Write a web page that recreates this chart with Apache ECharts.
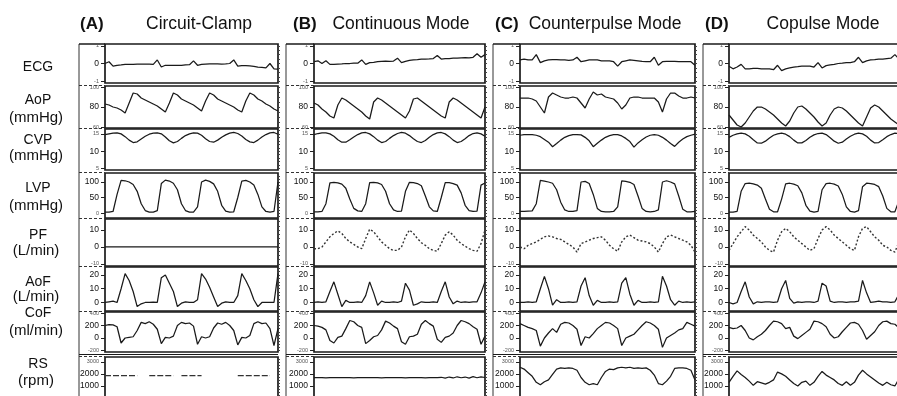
<!DOCTYPE html>
<html>
<head>
<meta charset="utf-8">
<script src="https://cdn.jsdelivr.net/npm/echarts@6/dist/echarts.min.js"></script>
<style>
  html, body { margin: 0; padding: 0; background: #fff; }
  #chart { width: 897px; height: 396px; }
</style>
</head>
<body>
<div id="chart"></div>
<script>
// rows and columns
const rowNames = ['ECG', 'AoP', 'CVP', 'LVP', 'PF', 'AoF', 'CoF', 'RS'];
const rowUnits = ['', '(mmHg)', '(mmHg)', '(mmHg)', '(L/min)', '(L/min)', '(ml/min)', '(rpm)'];
const modeLetters = ['(A)', '(B)', '(C)', '(D)'];
const modeTitles = ['Circuit-Clamp', 'Continuous Mode', 'Counterpulse Mode', 'Copulse Mode'];

// y axis ranges and tick labels per row
const axisMin = [-1.1, 59, 4.6, -16, -11.2, -6.2, -224, 0];
const axisMax = [1.1, 101, 16.4, 129, 16.5, 25.8, 416, 3400];
const majorTicks = [[0], [80], [10], [50, 100], [0, 10], [0, 10, 20], [0, 200], [1000, 2000]];
const edgeTicks = [[-1, 1], [60, 100], [5, 15], [0], [-10], [], [-200, 400], [3000]];
const minorStart = [-1, 60, 5, -10, -10, -5, -200, 250];
const minorStep = [0.25, 5, 1, 10, 2.5, 2.5, 50, 250];

// ECG
const ecgA = [0, 0.1, -0.15, -0.1, -0.08, -0.05, -0.05, -0.05, -0.04, -0.03, -0.03, -0.04, -0.05, 0.2, -0.2, -0.1, -0.1, -0.1, -0.1, -0.1, -0.08, -0.07, 0.15, -0.1, -0.05, -0.03, -0.02, -0.02, -0.02, -0.03, -0.02, 0.0, 0.2, -0.15, -0.12, -0.12, -0.14, -0.16, -0.2, -0.22, -0.25, 0.0, -0.3, -0.32];
const ecgB = [0.1, 0.15, 0.0, 0.15, -0.05, -0.05, -0.03, -0.02, 0, 0, 0.02, 0.02, 0.2, -0.05, 0.05, 0.07, 0.1, 0.12, 0.13, 0.12, 0.14, 0.3, 0.05, 0.12, 0.18, 0.2, 0.22, 0.25, 0.25, 0.26, 0.28, 0.45, 0.25, 0.27, 0.28, 0.3, 0.3, 0.32, 0.33, 0.32, 0.35, 0.55, 0.35, 0.5];
const ecgC = [0.2, 0.25, 0.2, 0.2, 0.5, 0.05, 0.15, 0.2, 0.22, 0.22, 0.2, 0.2, 0.18, 0.2, 0.35, 0.1, 0.15, 0.2, 0.2, 0.2, 0.15, 0.15, 0.15, 0.1, -0.15, 0.1, 0.15, 0.2, 0.18, 0.15, 0.12, 0.1, 0.1, 0.35, -0.1, 0.1, 0.12, 0.12, 0.12, 0.1, 0.1, 0.1, 0.1, -0.1];
const ecgD = [-0.15, -0.3, -0.2, -0.05, -0.3, -0.3, -0.28, -0.28, -0.3, -0.3, -0.3, -0.35, -0.1, -0.4, -0.3, -0.25, -0.2, -0.18, -0.15, -0.15, -0.15, -0.2, 0.05, -0.25, -0.12, -0.08, -0.05, 0.0, 0.02, 0.05, 0.05, 0.1, 0.35, 0.05, 0.15, 0.2, 0.22, 0.25, 0.25, 0.28, 0.3, 0.5, 0.25, 0.3];

// AoP (mmHg)
const aopA = [83, 82, 80, 79, 77, 74, 84, 94, 93, 89, 87, 85, 83, 81, 78, 75, 84, 94, 92, 88, 86, 84, 82, 79, 76, 86, 94, 92, 88, 86, 84, 82, 80, 77, 75, 86, 94, 92, 88, 86, 83, 81, 78, 76];
const aopB = [84, 82, 78, 75, 71, 69, 82, 89, 87, 84, 81, 78, 75, 71, 68, 85, 89, 87, 84, 81, 78, 75, 72, 69, 76, 88, 89, 86, 83, 80, 77, 74, 71, 69, 85, 89, 87, 84, 81, 78, 75, 72, 69, 80];
const aopC = [89, 89, 89, 88, 86, 80, 74, 90, 94, 92, 90, 89, 89, 90, 89, 84, 79, 88, 95, 92, 93, 90, 89, 88, 84, 78, 82, 89, 90, 90, 89, 89, 89, 89, 85, 75, 88, 94, 94, 91, 89, 89, 90, 89];
const aopD = [72, 67, 62, 60, 64, 70, 76, 80, 80, 78, 75, 72, 68, 64, 61, 66, 74, 80, 81, 78, 74, 70, 65, 61, 64, 72, 78, 80, 79, 76, 72, 68, 64, 61, 70, 79, 82, 80, 76, 72, 68, 65, 62, 61];

// CVP (mmHg)
const cvpA = [14.8, 15.0, 15.2, 15.3, 15.0, 14.2, 13.2, 12.5, 12.7, 13.5, 14.3, 14.9, 15.2, 15.3, 15.0, 14.1, 13.0, 12.4, 12.8, 13.7, 14.5, 15.0, 15.3, 15.2, 14.6, 13.6, 12.8, 12.6, 13.2, 14.0, 14.7, 15.2, 15.4, 15.1, 14.4, 13.4, 12.7, 12.5, 13.2, 14.1, 14.8, 15.3, 15.4, 14.9];
const cvpB = [14.8, 15.1, 15.3, 15.3, 15.0, 14.3, 13.3, 12.6, 12.6, 13.3, 14.1, 14.8, 15.3, 15.4, 15.0, 14.2, 13.2, 12.5, 12.8, 13.7, 14.5, 15.1, 15.4, 15.2, 14.5, 13.6, 12.8, 12.5, 13.1, 14.0, 14.8, 15.3, 15.4, 15.0, 14.2, 13.2, 12.5, 12.8, 13.6, 14.5, 15.1, 15.3, 15.0, 14.3];
const cvpC = [14.6, 14.8, 14.8, 14.8, 14.6, 14.2, 13.4, 12.6, 11.3, 12.2, 13.2, 14.0, 14.5, 14.8, 14.8, 14.7, 14.0, 13.0, 11.3, 12.3, 13.2, 14.0, 14.5, 14.8, 14.8, 14.4, 13.7, 12.8, 11.2, 12.4, 13.3, 14.1, 14.6, 14.8, 14.6, 14.0, 13.2, 12.2, 11.4, 12.6, 13.5, 14.2, 14.6, 14.9];
const cvpD = [14.0, 14.6, 15.0, 15.2, 15.0, 14.3, 13.3, 12.4, 12.3, 12.9, 13.8, 14.6, 15.0, 15.2, 14.9, 14.2, 13.2, 12.4, 12.4, 13.1, 14.0, 14.7, 15.1, 15.2, 14.8, 13.9, 12.9, 12.3, 12.6, 13.5, 14.3, 14.9, 15.2, 15.0, 14.3, 13.2, 12.4, 12.5, 13.3, 14.2, 14.8, 15.2, 15.1, 14.6];

// LVP (mmHg)
const lvpA = [3, 3, 5, 60, 105, 104, 100, 92, 70, 30, 8, 3, 3, 8, 95, 106, 103, 96, 75, 30, 8, 3, 3, 20, 100, 106, 102, 94, 70, 25, 6, 3, 4, 50, 103, 105, 100, 90, 60, 20, 5, 3, 5, 100];
const lvpB = [4, 4, 5, 30, 97, 99, 97, 93, 80, 45, 15, 7, 5, 30, 98, 99, 97, 92, 70, 30, 10, 5, 6, 70, 99, 98, 95, 88, 55, 20, 7, 5, 50, 98, 98, 95, 90, 65, 25, 8, 5, 6, 90, 97];
const lvpC = [5, 5, 6, 7, 30, 105, 103, 100, 96, 75, 35, 10, 5, 5, 8, 100, 102, 95, 60, 15, 5, 4, 4, 5, 20, 104, 102, 99, 92, 55, 15, 5, 4, 5, 10, 100, 104, 100, 94, 55, 12, 4, 4, 5];
const lvpD = [3, 3, 5, 70, 95, 96, 94, 90, 80, 45, 12, 4, 4, 45, 94, 96, 93, 88, 65, 25, 6, 3, 5, 75, 95, 96, 93, 87, 60, 20, 5, 3, 8, 85, 96, 95, 92, 85, 55, 15, 4, 4, 40, 92];

// PF (L/min)
const pfA = [0, 0, 0, 0, 0, 0, 0, 0, 0, 0, 0];
const pfB = [-1, -1, 0, 3, 6, 8, 9.5, 8, 5, 3, 1.5, 0, -1, 5, 10.5, 9, 6, 3, 1, -1, -2, -2, 0, 6, 10, 8, 5, 2.5, 1, -1, -2, -2.5, 2, 7, 9, 7, 4, 2, 0.5, -1, -2, -2.5, 2, 10];
const pfC = [0, -1, 1, 2, 3, 4.5, 6, 6.5, 6, 5, 4.5, 3, 1.5, 0, -3, 2, 3, 4, 5, 5.5, 6, 4, 1, -1, -2.5, 3, 6, 7, 5.5, 4, 3.5, 3, 2, 0, -3, 2, 6, 7, 6, 5, 4, 3, 1, -3];
const pfD = [-2, 2, 6, 9, 12, 10, 7, 5, 3, 0, -2, -3, 4, 9, 11, 9, 6, 4, 2, 0, -2, -1, 5, 10, 12, 10, 7, 5, 3, 1, -1, -2, 6, 11, 12, 9, 6, 4, 1, 0, -2, -3, 3, 8];

// AoF (L/min)
const aofA = [0, 0.5, 1, 0, 10, 21, 16, 8, -3, -1, 0, 0, 0.3, 0, 18, 20, 14, 8, -3, -0.5, 0.5, 0, 0, 2, 21, 17, 11, 4, -3, -0.5, 0.5, 0, 0, 5, 21, 16, 10, 2, -3, 0, 0, 0, 0, 21];
const aofB = [0, 0.5, 0, 0.5, 8, 15, 6, -3, 1.5, 0, 0, 0.5, 0, 5, 15, 7, -2, 1, 0, 0, 0.5, 0, 1, 14, 9, -2, -1, 0.5, 0, 0, 0.5, 0, 8, 15, 4, -1, 1, 0, 0.5, 0, 0.5, 0.5, 7, 15];
const aofC = [0, 0, 0.5, 0, 0.5, 10, 19, 10, -2, 2, 0, 0, 0.5, 0, 0.5, 12, 18, 5, -2, 1.5, 0, 0, 0.5, 0, 0.5, 14, 18, 6, -2, 1.5, 0, 0, 0.5, 0, 0.5, 19, 12, 2, -2, 1, 0, 0.5, 0, 0.5];
const aofD = [0, -1, 0, 8, 15, 4, -1, 0.5, 0, 0.5, 0.5, 0, 0.5, 10, 16, 3, -0.5, 0.5, 0, 0.5, 0.5, 0, 1, 14, 12, 1, 0, 0.5, 0.5, 0, 0.5, 0.5, 1, 16, 7, 0, 0.5, 1, 0.5, 0.5, 0, 0.5, 6, 15];

// CoF (ml/min)
const cofA = [200, 215, 210, 180, -80, 0, 10, 20, 120, 250, 230, 260, 220, 140, -90, 10, 0, 30, 200, 250, 230, 240, 190, -100, 20, 0, 20, 160, 240, 220, 250, 200, 120, -110, 10, 0, 40, 230, 260, 230, 240, 150, -120, 150];
const cofB = [200, 190, 170, 130, -40, -80, 10, 30, 150, 280, 260, 200, 170, -90, -40, 20, 40, 130, 270, 240, 190, 150, -60, -100, 20, 30, 60, 220, 280, 230, 190, -20, -70, 10, 30, 80, 200, 280, 260, 230, 180, 140, -100, 30];
const cofC = [230, 200, 170, 150, 120, -130, 0, 80, 150, 90, 220, 250, 240, 200, 140, -120, 20, 0, 70, 150, 200, 250, 240, 200, 150, -120, 0, 30, 60, 130, 200, 260, 240, 200, 140, -150, 0, 40, 80, 130, 150, 250, 220, 190];
const cofD = [170, 150, 160, 200, 120, 0, -30, 20, 60, 120, 200, 270, 260, 230, 150, 170, 30, -10, 40, 90, 140, 270, 260, 230, 180, 60, 0, 20, 100, 170, 240, 250, 220, 120, -20, 40, 100, 200, 260, 270, 230, 220, 160, 250];

// RS (rpm)
const rsA = [1850, 1850, 1850, 1850, 1850, 1850, 1850, 1850, 1850, null, null, 1850, 1850, 1850, 1850, 1850, 1850, 1850, null, 1850, 1850, 1850, 1850, 1850, 1850, null, null, null, null, null, null, null, null, 1850, 1850, 1850, 1850, 1850, 1850, 1850, 1850, 1850, null, 1850];
const rsB = [1680, 1690, 1680, 1670, 1680, 1690, 1680, 1690, 1680, 1680, 1670, 1680, 1690, 1680, 1680, 1690, 1680, 1670, 1680, 1690, 1680, 1680, 1690, 1670, 1680, 1680, 1690, 1680, 1670, 1680, 1690, 1680, 1720, 1650, 1740, 1660, 1760, 1680, 1740, 1650, 1770, 1680, 1750, 1700];
const rsC = [2550, 2400, 2100, 1800, 1300, 1100, 1350, 1500, 1950, 2400, 2500, 2450, 2500, 2450, 2300, 1700, 1300, 1100, 1200, 1100, 1700, 2200, 2400, 2350, 2500, 2550, 2500, 2550, 2450, 2500, 2450, 2500, 2300, 1900, 1200, 1100, 1400, 1800, 2450, 2500, 2500, 2450, 2300, 1500];
const rsD = [1300, 1800, 2250, 1950, 1700, 1400, 1050, 1350, 1250, 1150, 1300, 1500, 2150, 2000, 1800, 1500, 1200, 1000, 1300, 1400, 1050, 1300, 1800, 2200, 1900, 1700, 1500, 1200, 1050, 1350, 1050, 1300, 1900, 2300, 2000, 1750, 1500, 1250, 1050, 1300, 1100, 1000, 1600, 2000];

const panels = [
  [ecgA, ecgB, ecgC, ecgD],
  [aopA, aopB, aopC, aopD],
  [cvpA, cvpB, cvpC, cvpD],
  [lvpA, lvpB, lvpC, lvpD],
  [pfA, pfB, pfC, pfD],
  [aofA, aofB, aofC, aofD],
  [cofA, cofB, cofC, cofD],
  [rsA, rsB, rsC, rsD]
];

// layout
const cols = [
  { outer: 79, left: 105, right: 278 },
  { outer: 286, left: 314, right: 485 },
  { outer: 493, left: 520, right: 695 },
  { outer: 703, left: 729, right: 903 }
];
const rows = [
  { top: 44, h: 39 }, { top: 86, h: 42 }, { top: 129, h: 41 }, { top: 173, h: 45 },
  { top: 219, h: 47 }, { top: 267, h: 44 }, { top: 312, h: 40 }, { top: 357, h: 41 }
];
const labelY = [[67], [100, 118], [140, 156], [188, 206], [235, 251], [282, 297], [313, 331], [364, 381]];
const titleX = [199, 401, 605, 823];
const letterX = [80, 293, 495, 705];

const ink = '#1a1a1a';
const font = '"Liberation Sans", Arial, sans-serif';

function lineFor(ri, ci) {
  if (ri === 4 && ci > 0) return { color: '#333', width: 1.4, type: [2, 2] };
  if (ri === 7 && ci === 0) return { color: '#333', width: 1.2, type: [6, 2] };
  return { color: ink, width: 1.25 };
}

const grid = [], xAxis = [], yAxis = [], series = [];
rows.forEach((r, ri) => {
  const minor = [];
  for (let v = minorStart[ri]; v < axisMax[ri]; v += minorStep[ri]) minor.push(+v.toFixed(3));
  const labelVals = majorTicks[ri].concat(edgeTicks[ri]);
  cols.forEach((c, ci) => {
    const gi = grid.length;
    grid.push({
      left: c.left, top: r.top, width: c.right - c.left, height: r.h,
      show: true, borderColor: ink, borderWidth: 1.7, backgroundColor: 'transparent',
      containLabel: false, outerBoundsMode: 'none'
    });
    xAxis.push({ type: 'category', gridIndex: gi, show: false, boundaryGap: false });
    yAxis.push({
      type: 'value', gridIndex: gi, min: axisMin[ri], max: axisMax[ri],
      axisLine: { show: false }, splitLine: { show: false },
      axisTick: { show: true, customValues: labelVals, length: 4, lineStyle: { color: '#222', width: 1 } },
      axisLabel: {
        show: true, customValues: labelVals, margin: 6, fontSize: 8.5, color: '#111', fontFamily: font,
        formatter: v => edgeTicks[ri].indexOf(v) >= 0 ? '{s|' + v + '}' : String(v),
        rich: { s: { fontSize: 5.5, color: '#555', fontFamily: font } }
      }
    });
    yAxis.push({
      type: 'value', gridIndex: gi, min: axisMin[ri], max: axisMax[ri],
      axisLine: { show: false }, splitLine: { show: false }, axisLabel: { show: false },
      axisTick: { show: true, customValues: minor, length: 2, lineStyle: { color: '#444', width: 1 } }
    });
    series.push({
      type: 'line', xAxisIndex: gi, yAxisIndex: 2 * gi, data: panels[ri][ci],
      showSymbol: false, silent: true, connectNulls: false, lineStyle: lineFor(ri, ci)
    });
  });
});

// frames, labels and titles
const graphic = [];
cols.forEach((c, ci) => {
  graphic.push({ type: 'line', shape: { x1: c.outer, y1: 44, x2: c.outer, y2: 396 }, style: { stroke: '#333', lineWidth: 1 } });
  graphic.push({ type: 'line', shape: { x1: c.outer, y1: 44, x2: c.left, y2: 44 }, style: { stroke: ink, lineWidth: 1.5 } });
  rows.forEach((r, ri) => {
    if (ri === 0) return;
    graphic.push({ type: 'line', shape: { x1: c.outer, y1: r.top - 0.5, x2: c.left, y2: r.top - 0.5 }, style: { stroke: '#333', lineWidth: 1, lineDash: [3, 2] } });
  });
  graphic.push({ type: 'line', shape: { x1: c.outer, y1: 354.5, x2: c.right, y2: 354.5 }, style: { stroke: ink, lineWidth: 1.2 } });
  graphic.push({ type: 'text', style: { text: modeLetters[ci], x: letterX[ci], y: 24, textVerticalAlign: 'middle', font: 'bold 17px ' + font, fill: '#111' } });
  graphic.push({ type: 'text', style: { text: modeTitles[ci], x: titleX[ci], y: 24, textAlign: 'center', textVerticalAlign: 'middle', font: '17.5px ' + font, fill: '#111' } });
});
rowNames.forEach((n, ri) => {
  graphic.push({ type: 'text', style: { text: n, x: 38, y: labelY[ri][0], textAlign: 'center', textVerticalAlign: 'middle', font: '14px ' + font, fill: '#111' } });
  if (rowUnits[ri]) {
    graphic.push({ type: 'text', style: { text: rowUnits[ri], x: 36, y: labelY[ri][1], textAlign: 'center', textVerticalAlign: 'middle', font: '15px ' + font, fill: '#111' } });
  }
});

const chart = echarts.init(document.getElementById('chart'));
chart.setOption({
  animation: false,
  backgroundColor: '#fff',
  grid, xAxis, yAxis, series, graphic
});
</script>
</body>
</html>
